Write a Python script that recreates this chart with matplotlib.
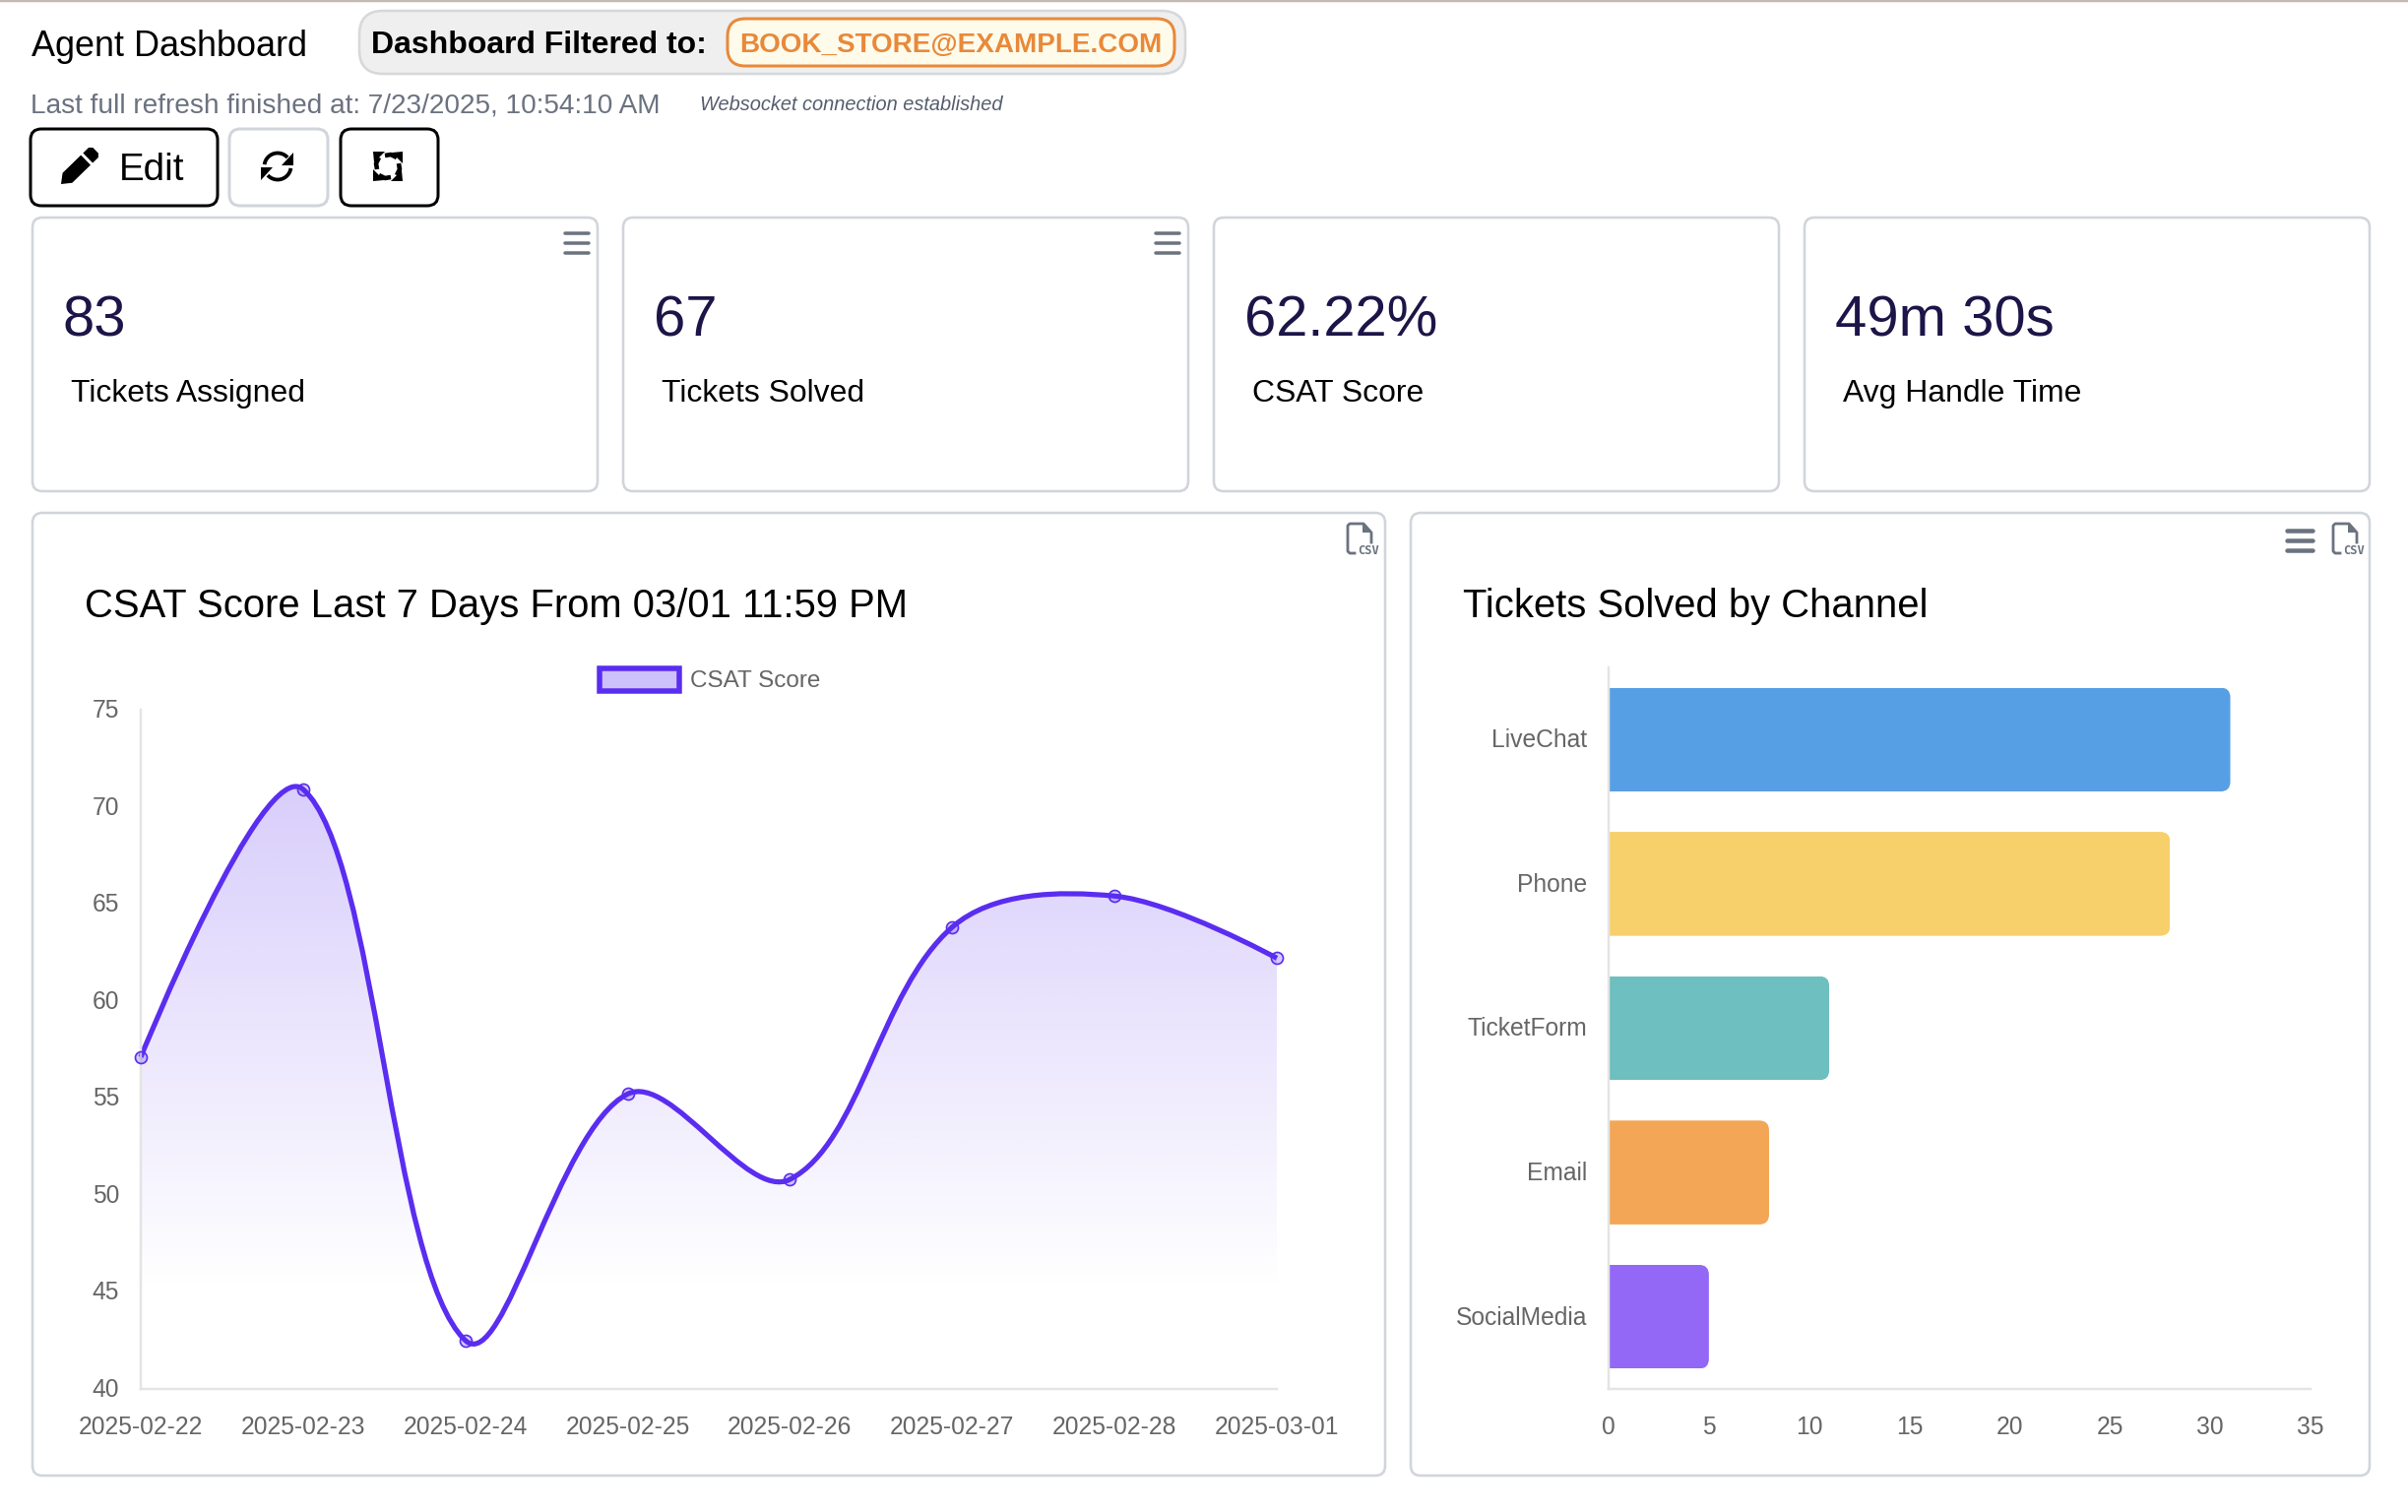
import numpy as np
import matplotlib
matplotlib.use("Agg")
import matplotlib.pyplot as plt
from matplotlib.patches import FancyBboxPatch, PathPatch, Patch, Polygon
from matplotlib.path import Path
from matplotlib.transforms import ScaledTranslation

W, H = 2446, 1536
plt.rcParams['font.family'] = ['Liberation Sans', 'DejaVu Sans']

# values
dates = ['2025-02-22', '2025-02-23', '2025-02-24', '2025-02-25',
         '2025-02-26', '2025-02-27', '2025-02-28', '2025-03-01']
csat = [57.1, 70.9, 42.5, 55.2, 50.8, 63.8, 65.4, 62.2]
y_ticks = [40, 45, 50, 55, 60, 65, 70, 75]

channels = ['LiveChat', 'Phone', 'TicketForm', 'Email', 'SocialMedia']
solved = [31, 28, 11, 8, 5]
bar_colors = ['#579FE5', '#F7D06B', '#6EBFBF', '#F3A655', '#9368F6']
x_ticks = [0, 5, 10, 15, 20, 25, 30, 35]

kpi_values = ['83', '67', '62.22%', '49m 30s']
kpi_labels = ['Tickets Assigned', 'Tickets Solved', 'CSAT Score', 'Avg Handle Time']

PURPLE = '#5A2DF0'
GREY = '#666666'
BORDER = '#D1D5DB'
SLATE = '#6B7280'
TENSION = 0.35


def pt(n):
    # pixels to points at dpi 100
    return n * 0.72


fig = plt.figure(figsize=(W / 100, H / 100), dpi=100)
bg = fig.add_axes([0, 0, 1, 1])
bg.set_xlim(0, W)
bg.set_ylim(H, 0)
bg.axis('off')


def box(x0, y0, x1, y1, r=10, ec=BORDER, fc='white', lw=2.6):
    bg.add_patch(FancyBboxPatch((x0, y0), x1 - x0, y1 - y0,
                                boxstyle=f'round,pad=0,rounding_size={r}',
                                ec=ec, fc=fc, lw=pt(lw)))


def label(x, y, s, size, color='black', **kw):
    bg.text(x, y, s, fontsize=pt(size), color=color, va='baseline', **kw)


def arc(cx, cy, r, a0, a1, color='black', lw=3.8):
    a = np.radians(np.linspace(a0, a1, 40))
    bg.plot(cx + r * np.cos(a), cy - r * np.sin(a), color=color, lw=pt(lw),
            solid_capstyle='butt')


def hamburger(x0, x1, y, gap=10, lw=3.5):
    for k in range(3):
        bg.plot([x0, x1], [y + k * gap] * 2, color=SLATE, lw=pt(lw), solid_capstyle='round')


def csv_icon(x0, y0):
    xs = np.array([7, 2, 0, 0, 2, 16, 24, 24]) + x0
    ys = np.array([30, 30, 28, 2, 0, 0, 9, 19]) + y0
    bg.plot(xs, ys, color=SLATE, lw=pt(2.8), solid_joinstyle='round')
    bg.add_patch(Polygon([(x0 + 15, y0), (x0 + 24, y0 + 9), (x0 + 15, y0 + 9)], fc=SLATE, ec='none'))
    bg.text(x0 + 10, y0 + 31, 'CSV', fontsize=pt(12), color=SLATE, family='DejaVu Sans Mono',
            fontweight='bold', va='baseline', ha='left')


# header
bg.plot([0, W], [1, 1], color='#C6B8B2', lw=pt(2.5))
label(32, 57, 'Agent Dashboard', 36)
box(365, 11, 1204, 75, r=24, ec='#D6D8DB', fc='#EFEFEF')
label(377, 54, 'Dashboard Filtered to:', 32, fontweight='bold')
box(739, 19, 1193, 67, r=18, ec='#E8893A', fc='#FFFBEA', lw=3)
label(751, 53, 'BOOK_STORE@EXAMPLE.COM', 27.9, color='#E8893A', fontweight='bold')
label(31, 114, 'Last full refresh finished at: 7/23/2025, 10:54:10 AM', 28, color=SLATE)
label(711, 112, 'Websocket connection established', 20, color='#555E6E', fontstyle='italic')

# buttons
box(31, 131, 221, 209, r=11, ec='black', lw=3)
box(233, 131, 333, 209, r=11, ec=BORDER, lw=3)
box(346, 131, 445, 209, r=11, ec='black', lw=3)
label(121, 183, 'Edit', 38.5)

# pencil icon, built along its own axis
tip = np.array([62.0, 187.0])
u = np.array([36.0, -35.0]) / 50.2
v = np.array([35.0, 36.0]) / 50.2
body = [(0, 0), (9, -7), (35, -7), (35, 7), (9, 7)]
cap = [(38, -7), (46, -7), (49, -4), (49, 4), (46, 7), (38, 7)]
for shape in (body, cap):
    bg.add_patch(Polygon([tip + a * u + b * v for a, b in shape], fc='black', ec='none'))

# refresh icon
arc(282, 169, 13.5, 172, 42)
arc(282, 169, 13.5, 352, 222)
bg.add_patch(Polygon([(298, 155), (298, 168), (286, 168)], fc='black', ec='none'))
bg.add_patch(Polygon([(265, 183), (265, 170), (277, 170)], fc='black', ec='none'))

# full refresh icon, one arrow turned four times
for k in range(4):
    rot = np.radians(90 * k)
    m = np.array([[np.cos(rot), -np.sin(rot)], [np.sin(rot), np.cos(rot)]])
    c = np.array([394.0, 169.0])
    stroke = np.array([c + m @ p for p in [(-3, -11), (3, -12), (9, -9)]])
    bg.plot(stroke[:, 0], stroke[:, 1], color='black', lw=pt(4.6), solid_capstyle='butt')
    bg.add_patch(Polygon([c + m @ p for p in [(15, -15), (15, -3), (4, -14)]], fc='black', ec='none'))

# kpi cards
for k in range(4):
    x0 = 33 + 600 * k
    box(x0, 221, x0 + 574, 499)
    label(x0 + 31, 342, kpi_values[k], 58, color='#1C1548')
    label(x0 + 39, 408, kpi_labels[k], 31.9)
    if k < 2:
        hamburger(x0 + 541, x0 + 565, 237)

# chart cards
box(33, 521, 1407, 1499)
box(1433, 521, 2407, 1499)
label(86, 627, 'CSAT Score Last 7 Days From 03/01 11:59 PM', 40)
label(1486, 627, 'Tickets Solved by Channel', 40)
csv_icon(1369, 532)
csv_icon(2370, 532)
hamburger(2323, 2349, 539, lw=4.5)


def make_axes(l, t, r, b):
    ax = fig.add_axes([l / W, 1 - b / H, (r - l) / W, (b - t) / H])
    ax.patch.set_alpha(0)
    for side in ('top', 'right'):
        ax.spines[side].set_visible(False)
    for side in ('left', 'bottom'):
        ax.spines[side].set_color('#E4E4E4')
        ax.spines[side].set_linewidth(pt(2.5))
    ax.tick_params(length=0, labelsize=pt(24.6), labelcolor=GREY)
    ax.tick_params(axis='x', pad=pt(27))
    ax.tick_params(axis='y', pad=pt(22))
    return ax


# line chart
ax1 = make_axes(143, 721, 1297, 1411)
ax1.set_xlim(0, len(dates) - 1)
ax1.set_ylim(y_ticks[0], y_ticks[-1])
ax1.set_xticks(range(len(dates)), dates)
ax1.set_yticks(y_ticks)

# bezier control points worked out the way chart.js does it
px_pts = ax1.transData.transform(np.column_stack([range(len(csat)), csat]))
verts = [px_pts[0]]
codes = [Path.MOVETO]
n = len(px_pts)
ctrl_out = [px_pts[0]]
ctrl_in = [None]
for i in range(1, n - 1):
    d0 = np.hypot(*(px_pts[i] - px_pts[i - 1]))
    d1 = np.hypot(*(px_pts[i + 1] - px_pts[i]))
    span = px_pts[i + 1] - px_pts[i - 1]
    ctrl_in.append(px_pts[i] - TENSION * d0 / (d0 + d1) * span)
    ctrl_out.append(px_pts[i] + TENSION * d1 / (d0 + d1) * span)
ctrl_in.append(px_pts[-1])
for i in range(1, n):
    verts += [ctrl_out[i - 1], ctrl_in[i], px_pts[i]]
    codes += [Path.CURVE4] * 3
data_verts = ax1.transData.inverted().transform(np.array(verts))

line_path = Path(data_verts, codes)
fill_path = Path(np.vstack([data_verts, [[n - 1, y_ticks[0]], [0, y_ticks[0]], data_verts[0]]]),
                 codes + [Path.LINETO, Path.LINETO, Path.CLOSEPOLY])

# gradient fill, fades out a bit above the axis
levels = np.linspace(y_ticks[-1], y_ticks[0], 256)
grad = np.zeros((256, 1, 4))
grad[..., :3] = matplotlib.colors.to_rgb(PURPLE)
grad[:, 0, 3] = np.clip((levels - 45.0) / (75 - 45.0), 0, 1) * 0.27
im = ax1.imshow(grad, extent=[0, n - 1, y_ticks[0], y_ticks[-1]], aspect='auto', zorder=1,
                interpolation='bilinear')
im.set_clip_path(PathPatch(fill_path, transform=ax1.transData))
ax1.add_patch(PathPatch(line_path, fc='none', ec=PURPLE, lw=pt(5.2), zorder=2, clip_on=False))
ax1.plot(range(n), csat, ls='none', marker='o', ms=pt(12), mew=pt(1.7), mec=PURPLE,
         mfc=(0.35, 0.18, 0.94, 0.25), zorder=3, clip_on=False)
ax1.legend(handles=[Patch(fc='#CCC1FA', ec=PURPLE, lw=pt(5.5), label='CSAT Score')],
           loc='center', bbox_to_anchor=(721 / W, 1 - 691 / H), bbox_transform=fig.transFigure,
           frameon=False, fontsize=pt(24.3), labelcolor=GREY, borderpad=0, borderaxespad=0,
           handlelength=3.35, handleheight=1.1, handletextpad=0.42)

# bar chart
ax2 = make_axes(1634, 678, 2347, 1411)
bars = ax2.barh(range(len(channels)), solved, height=0.72, color=bar_colors, zorder=2)
ax2.set_xlim(x_ticks[0], x_ticks[-1])
ax2.set_ylim(len(channels) - 0.5, -0.5)
ax2.set_xticks(x_ticks)
ax2.set_yticks(range(len(channels)), channels)

# round the right hand corners by clipping each bar
rx = 10 / (713 / 35)
ry = 10 / (733 / 5)
for b in bars:
    x0, y0, x1, y1 = b.get_x(), b.get_y(), b.get_x() + b.get_width(), b.get_y() + b.get_height()
    corner = Path([(x0, y0), (x1 - rx, y0), (x1, y0), (x1, y0 + ry), (x1, y1 - ry), (x1, y1),
                   (x1 - rx, y1), (x0, y1), (x0, y0)],
                  [Path.MOVETO, Path.LINETO, Path.CURVE3, Path.CURVE3, Path.LINETO, Path.CURVE3,
                   Path.CURVE3, Path.LINETO, Path.CLOSEPOLY])
    b.set_clip_path(corner, ax2.transData)

# y labels sit a little high in the original
nudge = ScaledTranslation(0, 1.5 / 100, fig.dpi_scale_trans)
for ax in (ax1, ax2):
    for t in ax.get_yticklabels():
        t.set_transform(t.get_transform() + nudge)

fig.savefig('out.png', dpi=100, facecolor='white')
